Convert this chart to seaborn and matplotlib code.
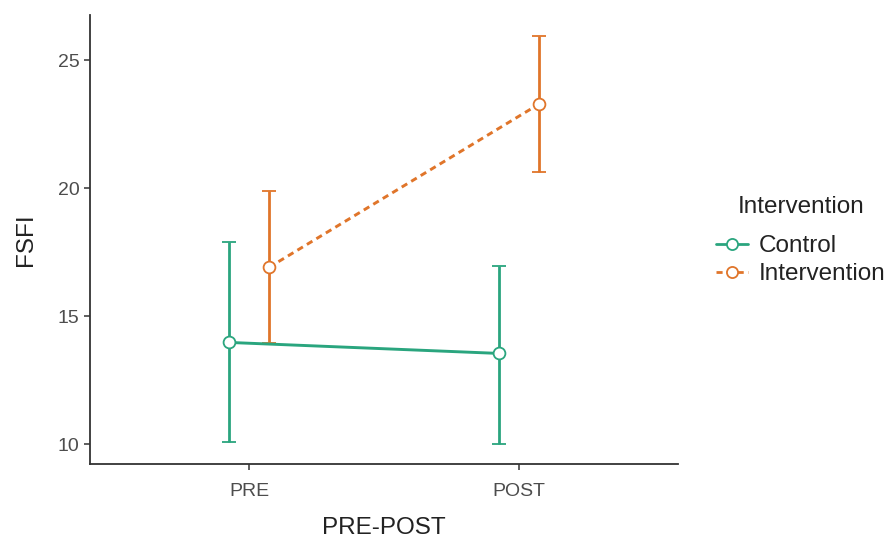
import matplotlib
matplotlib.use("Agg")
import matplotlib.pyplot as plt
from matplotlib.lines import Line2D
import seaborn as sns
import pandas as pd
import numpy as np

# ---- data ----
periods = ["PRE", "POST"]
groups = ["Control", "Intervention"]
control_mean = [13.97, 13.54]
control_low = [10.09, 9.99]
control_high = [17.90, 16.96]
intervention_mean = [16.90, 23.28]
intervention_low = [13.93, 20.61]
intervention_high = [19.89, 25.95]
y_ticks = [10, 15, 20, 25]

colors = {"Control": "#2aa57e", "Intervention": "#e0752a"}
dodge = {"Control": -0.074, "Intervention": 0.074}

rows = []
for g, m, lo, hi in [("Control", control_mean, control_low, control_high),
                     ("Intervention", intervention_mean, intervention_low, intervention_high)]:
    for i, p in enumerate(periods):
        rows.append({"group": g, "period": p, "xpos": i + dodge[g],
                     "mean": m[i], "low": lo[i], "high": hi[i]})
df = pd.DataFrame(rows)

sns.set_theme(style="ticks")
plt.rcParams["font.family"] = ["Liberation Sans", "DejaVu Sans"]

fig = plt.figure(figsize=(8.96, 5.38), dpi=100)
ax = fig.add_axes([0.1004, 0.1375, 0.6563, 0.8346])

# error bars (beneath lines/points)
for g in groups:
    d = df[df.group == g]
    ax.errorbar(d["xpos"], d["mean"],
                yerr=[d["mean"] - d["low"], d["high"] - d["mean"]],
                fmt="none", color=colors[g], ecolor=colors[g], elinewidth=2.0,
                capsize=5, capthick=2.0, zorder=1.5)

sns.lineplot(data=df, x="xpos", y="mean", hue="group", style="group",
             hue_order=groups, style_order=groups, palette=colors,
             dashes={"Control": "", "Intervention": (2.2, 1.6)},
             markers={"Control": "o", "Intervention": "o"},
             markersize=8.5, linewidth=2.1, legend=False, ax=ax, zorder=2,
             sort=True, estimator=None)

for line in ax.lines:
    c = line.get_color()
    line.set_markerfacecolor("white")
    line.set_markeredgecolor(c)
    line.set_markeredgewidth(1.3)

ax.set_xlim(-0.589, 1.589)
ax.set_ylim(9.22, 26.76)
ax.set_xticks(range(len(periods)))
ax.set_xticklabels(periods)
ax.set_yticks(y_ticks)
ax.set_xlabel("PRE-POST", fontsize=17.5, color="#222222", labelpad=12)
ax.set_ylabel("FSFI", fontsize=17.5, color="#222222", labelpad=15)
ax.tick_params(axis="both", labelsize=14, labelcolor="#4d4d4d",
               color="#333333", length=4, width=1.1)
ax.tick_params(axis="x", pad=10)
for s in ["top", "right"]:
    ax.spines[s].set_visible(False)
for s in ["left", "bottom"]:
    ax.spines[s].set_color("#333333")
    ax.spines[s].set_linewidth(1.3)
ax.grid(False)

# legend
fig.text(738 / 896, 1 - 207 / 538, "Intervention", fontsize=17.5,
         color="#222222", ha="left", va="center")
handles = [
    Line2D([], [], color=colors["Control"], lw=2.0, ls="-", marker="o",
           markersize=8, markerfacecolor="white",
           markeredgecolor=colors["Control"], markeredgewidth=1.3),
    Line2D([], [], color=colors["Intervention"], lw=2.0, ls=(0, (2.2, 1.6)),
           marker="o", markersize=8, markerfacecolor="white",
           markeredgecolor=colors["Intervention"], markeredgewidth=1.3),
]
fig.legend(handles, groups, loc="upper left",
           bbox_to_anchor=(716 / 896, 1 - 235 / 538), frameon=False,
           fontsize=17.5, borderpad=0, borderaxespad=0, handlelength=1.3,
           handletextpad=0.45, labelspacing=0.25,
           labelcolor="#222222")

fig.savefig("out.png", dpi=100)
